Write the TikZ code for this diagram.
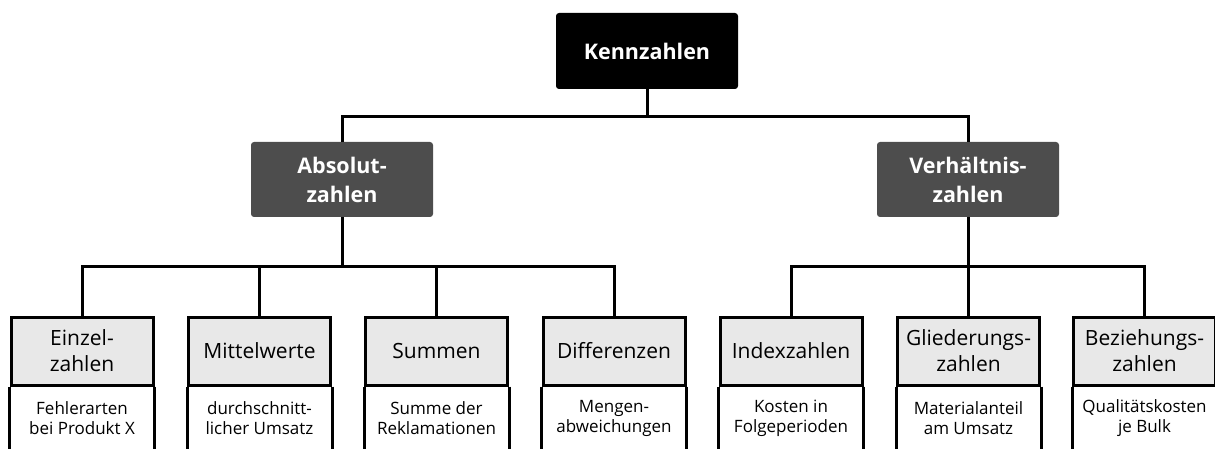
\documentclass[tikz,border=0pt]{standalone}
\usepackage{fontspec}
\setmainfont{Open Sans}
\definecolor{darkbox}{RGB}{77,77,77}
\definecolor{headgray}{RGB}{232,232,232}
\begin{document}
\begin{tikzpicture}[x=1pt,y=-1pt,
  link/.style={line width=3pt},
  rootbox/.style={rectangle, rounded corners=3pt, fill=black, text=white,
    font=\bfseries\fontsize{21.5}{29}\selectfont, minimum width=182pt,
    minimum height=76pt, inner sep=0pt, align=center},
  groupbox/.style={rootbox, fill=darkbox, minimum height=75pt},
  headbox/.style={rectangle, draw=black, fill=headgray, line width=3pt,
    font=\fontsize{21}{26}\selectfont, minimum width=142pt,
    minimum height=68pt, inner sep=0pt, align=center},
  detail/.style={font=\fontsize{17}{20}\selectfont, align=center, inner sep=0pt}
]
\useasboundingbox (0,0) rectangle (1215,449);
\begin{scope}
\clip (0,0) rectangle (1215,449);

% top level
\node[rootbox] (ken) at (647,51) {Kennzahlen};
\node[groupbox] (abs) at (342,179.5) {Absolut-\\zahlen};
\node[groupbox] (ver) at (968,179.5) {Verhältnis-\\zahlen};
\draw[link] (ken.south) -- ++(0,27) -| (abs.north);
\draw[link] (ken.south) -- ++(0,27) -| (ver.north);

% category headers
\foreach \n/\cx/\t in {h1/82/{Einzel-\\zahlen}, h2/259.5/{Mittelwerte},
    h3/436.5/{Summen}, h4/614/{Differenzen}, h5/791/{Indexzahlen},
    h6/968.5/{Gliederungs-\\zahlen}, h7/1144.5/{Beziehungs-\\zahlen}}{
  \node[headbox] (\n) at (\cx,351) {\t};
  \draw[link] (\n.south west) -- ++(0,70);
  \draw[link] (\n.south east) -- ++(0,70);
}

% examples
\node[detail] (d1) at (h1.south |- 0,418) {Fehlerarten\\bei Produkt X};
\node[detail] (d2) at (h2.south |- 0,418) {durchschnitt-\\licher Umsatz};
\node[detail] (d3) at (h3.south |- 0,418) {Summe der\\Reklamationen};
\node[detail] (d4) at (h4.south |- 0,418) {Mengen-\\abweichungen};
\node[detail] (d5) at (h5.south |- 0,418) {Kosten in\\Folgeperioden};
\node[detail] (d6) at (h6.south |- 0,418) {Materialanteil\\am Umsatz};
\node[detail] (d7) at (h7.south |- 0,418) {Qualitätskosten\\je Bulk};

% connectors
\foreach \c in {h1,h2,h3,h4}
  \draw[link] (abs.south) -- ++(0,49) -| (\c.north);
\foreach \c in {h5,h6,h7}
  \draw[link] (ver.south) -- ++(0,49) -| (\c.north);
\end{scope}
\end{tikzpicture}
\end{document}
